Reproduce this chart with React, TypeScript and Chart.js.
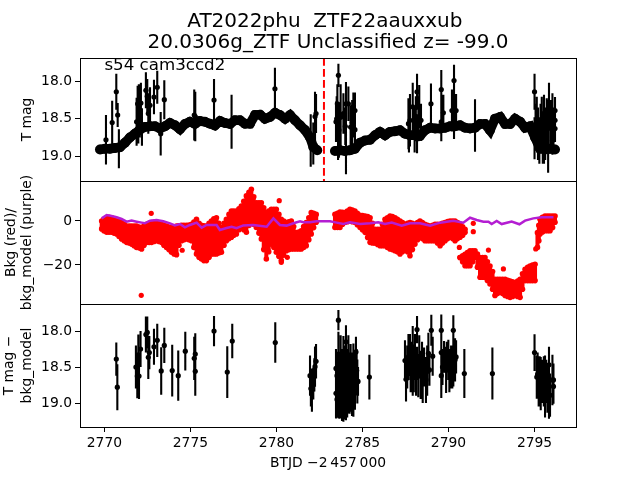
import React, { useEffect, useRef } from "react";
import { Chart, registerables } from "chart.js";

Chart.register(...registerables);

const titleLines = ["AT2022phu  ZTF22aauxxub ", "20.0306g_ZTF Unclassified z= -99.0"];
const sectorLabel = "s54 cam3ccd2";
const eventTime = 2782.76;
const xTicks = [2770, 2775, 2780, 2785, 2790, 2795];
const magTicks = [18.0, 18.5, 19.0];
const bkgTicks = [0, -20];

// Dense photometry band before and after the data gap: [BTJD, T mag]
const magBandEarly = [
  [2769.74,18.91],[2770.03,18.90],[2770.32,18.90],[2770.61,18.89],[2770.9,18.88],[2771.19,18.82],[2771.48,18.75],[2771.77,18.70],
  [2772.06,18.645],[2772.35,18.61],[2772.65,18.60],[2772.94,18.60],[2773.23,18.63],[2773.52,18.60],[2773.81,18.556],[2774.1,18.587],
  [2774.39,18.64],[2774.68,18.57],[2774.97,18.54],[2775.26,18.57],[2775.55,18.53],[2775.84,18.54],[2776.13,18.565],[2776.42,18.59],
  [2776.72,18.53],[2777.0,18.556],[2777.3,18.57],[2777.59,18.52],[2777.88,18.52],[2778.17,18.565],[2778.46,18.565],[2778.75,18.45],
  [2779.04,18.445],[2779.33,18.50],[2779.62,18.476],[2779.92,18.42],[2780.2,18.45],[2780.5,18.50],[2780.79,18.45],[2781.08,18.52],
  [2781.37,18.587],[2781.66,18.65],[2781.95,18.75],[2782.14,18.875],[2782.37,18.92],
];
const magBandLate = [
  [2783.4,18.93],[2783.69,18.92],[2783.98,18.93],[2784.27,18.92],[2784.56,18.90],[2784.86,18.82],[2785.15,18.79],[2785.44,18.78],
  [2785.73,18.72],[2786.02,18.675],[2786.31,18.72],[2786.6,18.675],[2786.89,18.667],[2787.18,18.654],[2787.47,18.70],[2787.76,18.72],
  [2788.05,18.72],[2788.34,18.73],[2788.63,18.654],[2788.93,18.62],[2789.22,18.63],[2789.51,18.63],[2789.8,18.62],[2790.09,18.60],
  [2790.38,18.60],[2790.67,18.587],[2790.96,18.62],[2791.25,18.63],[2791.54,18.62],[2791.83,18.57],[2792.12,18.57],[2792.41,18.654],
  [2792.7,18.50],[2793.0,18.476],[2793.29,18.57],[2793.58,18.57],[2793.87,18.50],[2794.16,18.54],[2794.45,18.62],[2794.74,18.60],
  [2795.03,18.75],[2795.32,18.90],[2795.61,18.91],[2795.9,18.90],[2796.19,18.91],
];

// Scattered photometry: [BTJD, T mag, error]
const magScatter = [
  [2770.09,18.78,0.33],[2770.45,18.55,0.29],[2770.69,18.14,0.24],[2770.77,18.45,0.16],[2770.84,18.90,0.26],[2771.87,18.54,0.32],
  [2771.93,18.30,0.24],[2771.97,18.55,0.28],[2772.0,18.32,0.28],[2772.05,18.5,0.25],[2772.12,18.29,0.27],[2772.18,18.61,0.25],[2772.41,18.12,0.24],[2772.49,18.2,0.23],
  [2772.55,18.43,0.27],[2772.65,18.32,0.24],[2772.88,18.21,0.23],[2773.07,18.08,0.22],[2773.27,18.70,0.29],[2773.48,18.245,0.26],
  [2775.22,18.45,0.34],[2775.28,18.47,0.33],[2776.37,18.25,0.28],[2777.39,18.54,0.36],[2779.91,18.10,0.28],[2781.99,18.79,0.35],
  [2782.3,18.43,0.26],[2782.24,18.47,0.33],[2782.14,18.83,0.28],
  [2783.6,17.92,0.155],[2783.46,18.54,0.27],[2783.5,18.5,0.3],[2783.54,18.30,0.26],[2783.58,18.75,0.3],[2783.63,18.65,0.37],[2783.73,18.48,0.44],[2783.89,18.43,0.27],
  [2784.0,18.6,0.25],[2784.04,18.30,0.29],[2784.04,18.92,0.32],[2784.18,18.30,0.23],[2784.31,18.61,0.29],[2784.4,18.55,0.3],[2784.47,18.45,0.3],[2784.56,18.39,0.24],
  [2784.56,18.645,0.24],[2787.67,18.565,0.34],[2787.7,18.7,0.25],[2787.76,18.52,0.35],[2787.92,18.34,0.32],[2788.03,18.65,0.3],[2788.1,18.5,0.3],[2788.17,18.14,0.24],
  [2788.17,18.70,0.26],[2788.25,18.5,0.3],[2788.3,18.34,0.29],[2788.4,18.52,0.22],[2788.98,18.30,0.27],[2789.58,18.11,0.26],[2789.58,18.54,0.26],
  [2789.7,18.42,0.24],[2790.2,18.39,0.28],[2790.32,17.99,0.21],[2790.32,18.48,0.29],[2790.44,18.39,0.22],[2791.54,18.59,0.35],
  [2795.0,18.14,0.24],[2795.0,18.76,0.28],[2795.06,18.6,0.3],[2795.13,18.565,0.36],[2795.2,18.7,0.35],[2795.28,18.79,0.31],[2795.35,18.6,0.3],[2795.42,18.565,0.36],[2795.48,18.75,0.35],[2795.55,18.52,0.34],
  [2795.55,18.83,0.27],[2795.62,18.7,0.35],[2795.71,18.565,0.34],[2795.75,18.55,0.3],[2795.79,18.88,0.34],[2795.84,18.34,0.32],[2795.92,18.6,0.35],[2796.04,18.43,0.27],[2796.04,18.79,0.19],
  [2796.1,18.65,0.3],[2796.19,18.39,0.18],[2796.19,18.52,0.18],[2796.19,18.63,0.18],
];

// Background flux read as spans: [BTJD, upper, lower]
const bkgSpans = [
  [2769.84,0.0,-3.6],[2770.13,1.5,-5.1],[2770.42,1.5,-5.1],[2770.71,0.0,-5.9],[2771.0,-0.75,-8.2],[2771.29,-2.3,-9.7],[2771.58,-2.3,-10.5],
  [2771.87,-2.3,-12.0],[2772.16,-3.0,-12.7],[2772.45,-1.5,-9.7],[2772.74,-0.75,-9.7],[2773.03,-0.45,-9.0],[2773.32,-1.5,-9.7],[2773.61,-2.3,-12.0],
  [2773.9,-3.0,-14.2],[2774.19,-2.3,-15.3],[2774.48,-2.0,-9.0],[2774.77,-2.0,-8.2],[2775.06,-1.5,-9.0],[2775.35,0.8,-15.0],[2775.64,-2.0,-17.3],
  [2775.93,-2.3,-18.0],[2776.22,0.0,-15.0],[2776.51,1.5,-15.0],[2776.8,-3.0,-14.2],[2777.09,0.8,-9.0],[2777.38,4.5,-7.4],[2777.67,4.5,-5.9],
  [2777.96,6.8,-2.9],[2778.25,11.4,-5.1],[2778.54,14.4,-0.2],[2778.83,8.3,-2.9],[2779.12,8.3,-8.2],[2779.41,3.8,-17.3],[2779.7,5.3,-10.5],
  [2779.99,5.3,-14.2],[2780.28,0.8,-18.0],[2780.57,-0.75,-13.5],[2780.86,0.0,-12.7],[2781.15,-5.3,-12.7],[2781.44,-4.5,-12.7],[2781.73,-0.75,-11.2],
  [2782.02,3.8,-5.9],[2782.31,3.0,-0.6],
  [2783.4,3.0,-2.9],[2783.69,4.1,-2.9],[2783.98,3.8,-0.6],[2784.27,5.3,0.15],[2784.56,4.55,-0.6],[2784.86,2.6,-2.9],[2785.15,2.3,-5.15],
  [2785.44,1.5,-9.7],[2785.73,-3.8,-10.15],[2786.02,-3.8,-11.2],[2786.31,0.8,-11.2],[2786.6,2.3,-12.7],[2786.89,1.5,-13.5],[2787.18,0.0,-15.0],
  [2787.47,-1.5,-12.7],[2787.76,-0.75,-15.8],[2788.05,-1.5,-10.5],[2788.34,0.0,-6.7],[2788.63,-1.5,-9.0],[2788.93,-2.3,-9.0],[2789.22,-1.5,-9.0],
  [2789.51,-1.5,-11.2],[2789.8,-0.75,-9.0],[2790.09,0.0,-7.4],[2790.38,0.0,-9.0],[2790.67,-1.5,-7.4],[2790.96,-3.8,-5.15],
  [2790.67,-16.6,-16.6],[2790.96,-15.1,-20.3],[2791.25,-13.6,-20.3],[2791.54,-13.6,-16.5],[2791.83,-16.66,-25.6],[2792.12,-16.66,-25.6],
  [2792.41,-20.45,-28.6],[2792.7,-26.5,-33.9],[2792.99,-26.5,-31.7],[2793.29,-26.5,-33.9],[2793.58,-27.3,-34.7],[2793.87,-28.0,-33.9],
  [2794.16,-26.5,-34.7],[2794.45,-22.0,-27.1],[2794.74,-20.45,-27.1],[2795.03,-19.7,-27.1],
  [2795.17,-5.3,-12.0],[2795.32,0.8,-5.9],[2795.61,2.3,-4.4],[2795.9,2.3,-4.4],[2796.19,2.3,-0.6],
];

const bkgSpansBetween = [
  [2769.98,0.8,-4.5],[2770.27,1.7,-5.1],[2770.56,0.8,-5.5],[2770.85,-0.3,-7.0],[2771.15,-1.5,-9.0],[2771.44,-2.3,-10.0],[2771.73,-2.3,-11.2],[2772.02,-2.8,-12.2],
  [2772.3,-2.2,-11.0],[2772.6,-1.0,-9.7],[2772.88,-0.6,-9.3],[2773.18,-1.0,-9.3],[2773.46,-2.0,-11.0],[2773.75,-2.7,-13.0],[2774.05,-2.7,-15.0],[2774.33,-2.2,-11.0],
  [2774.62,-2.0,-8.5],[2774.92,-1.8,-8.5],[2775.2,-0.5,-12.0],[2775.5,-1.0,-16.5],[2775.78,-2.2,-18.0],[2776.08,-1.0,-16.5],[2776.36,1.0,-15.0],[2776.65,-1.0,-14.5],
  [2776.95,-1.0,-11.0],[2777.24,3.0,-8.0],[2777.52,4.5,-6.5],[2777.82,5.5,-4.0],[2778.1,9.0,-4.0],[2778.4,13.0,-2.0],[2778.68,11.0,-1.5],[2778.98,8.3,-5.5],
  [2779.26,6.0,-13.0],[2779.55,4.5,-14.0],[2779.85,5.3,-12.0],[2780.14,3.0,-16.0],[2780.42,0.0,-15.5],[2780.72,-0.4,-13.0],[2781.0,-2.5,-12.7],[2781.3,-5.0,-12.7],
  [2781.58,-2.5,-12.0],[2781.88,1.5,-8.5],[2782.16,3.5,-3.0],
  [2783.55,3.5,-2.9],[2783.84,4.0,-1.5],[2784.12,4.5,-0.3],[2784.41,5.0,-0.3],[2784.7,3.5,-1.7],[2785.0,2.5,-4.0],[2785.3,2.0,-7.5],[2785.58,-1.0,-10.0],
  [2785.88,-3.8,-10.7],[2786.16,-1.5,-11.2],[2786.45,1.5,-12.0],[2786.74,2.0,-13.0],[2787.03,0.8,-14.0],[2787.32,-0.7,-14.0],[2787.62,-1.0,-14.0],[2787.9,-1.0,-13.0],
  [2788.2,-0.7,-8.5],[2788.48,-0.7,-8.0],[2788.78,-1.9,-9.0],[2789.08,-1.9,-9.0],[2789.36,-1.5,-10.0],[2789.65,-1.1,-10.0],[2789.95,-0.3,-8.0],[2790.24,0.0,-8.0],
  [2790.52,-0.7,-8.0],[2790.82,-2.6,-6.5],
  [2790.82,-15.8,-18.5],[2791.1,-14.3,-20.3],[2791.4,-13.6,-18.5],[2791.68,-15.0,-21.0],[2791.98,-16.6,-25.6],[2792.26,-18.5,-27.0],[2792.56,-23.0,-31.0],
  [2792.85,-26.5,-33.0],[2793.14,-26.5,-33.0],[2793.44,-27.0,-34.3],[2793.72,-27.6,-34.3],[2794.02,-27.3,-34.3],[2794.3,-24.0,-31.0],[2794.6,-21.0,-27.1],[2794.88,-20.0,-27.1],
  [2795.25,-2.0,-9.0],[2795.46,1.7,-5.0],[2795.76,2.3,-4.4],[2796.05,2.3,-3.0],
];

const bkgOutliers = [
  [2772.72,3.5],[2772.14,-33.8],[2774.52,-13.3],[2780.16,9.25],[2780.63,-16.5],[2780.28,-18.8],
  [2792.32,-13.2],[2793.19,-21.8],[2790.63,-12.0],[2791.44,-4.85],[2791.44,-1.06],[2795.07,-12.7],
];

const bkgModel = [
  [2769.84,1.2],[2770.13,2.7],[2770.42,2.3],[2770.71,1.7],[2771.0,0.9],[2771.29,-0.3],[2771.58,0.2],[2771.87,-0.3],[2772.16,-0.75],[2772.35,-1.05],
  [2772.65,0.15],[2773.03,0.45],[2773.42,-0.15],[2773.81,-1.05],[2774.1,-2.0],[2774.39,-1.4],[2774.68,-2.9],[2774.97,-1.8],[2775.36,-0.75],[2775.65,-3.0],
  [2775.94,-1.8],[2776.52,-1.8],[2776.71,-4.1],[2777.1,-3.2],[2777.39,-2.6],[2777.68,-3.3],[2778.07,-2.0],[2778.65,-1.8],[2779.43,-2.6],[2779.82,1.2],
  [2780.2,-1.8],[2780.59,-2.1],[2780.98,-1.05],[2781.37,-0.15],[2781.56,-0.6],[2781.95,-0.6],[2782.33,-0.15],[2783.11,-0.15],[2783.5,-0.75],[2783.89,-1.4],
  [2784.27,-0.6],[2784.86,-1.4],[2785.44,-1.05],[2785.92,-0.6],[2786.31,-1.4],[2786.7,-0.75],[2787.28,-2.1],[2787.76,-1.05],[2788.34,-1.05],[2788.93,-2.1],
  [2789.51,-0.75],[2790.28,0.15],[2790.86,-0.75],[2791.25,1.5],[2791.64,0.45],[2792.03,-0.3],[2792.32,-0.3],[2792.51,-1.4],[2792.8,0.0],[2793.09,-1.4],
  [2793.67,-0.3],[2794.12,-1.5],[2794.45,0.15],[2794.93,1.2],[2795.42,1.7],[2796.1,1.7],
];

// Residual magnitude: [BTJD, T mag - bkg_model, error]
const residual = [
  [2770.69,18.39,0.23],[2770.75,18.78,0.32],[2771.83,18.50,0.30],[2771.91,18.625,0.31],[2772.01,18.625,0.32],[2771.97,18.33,0.28],[2772.1,18.25,0.25],
  [2772.41,18.05,0.25],[2772.49,18.02,0.22],[2772.55,18.365,0.30],[2772.61,18.30,0.23],[2772.88,18.22,0.25],[2773.07,18.13,0.23],[2773.3,18.555,0.33],
  [2773.48,18.20,0.245],[2773.94,18.55,0.36],[2774.29,18.62,0.35],[2774.7,18.28,0.27],[2775.22,18.38,0.30],[2775.28,18.32,0.29],[2775.28,18.56,0.34],
  [2776.37,18.0,0.21],[2777.14,18.57,0.36],[2777.43,18.14,0.24],[2779.93,18.16,0.28],[2781.95,18.62,0.28],[2782.0,18.80,0.25],[2782.06,18.82,0.30],
  [2782.14,18.73,0.22],[2782.24,18.495,0.28],[2782.3,18.42,0.24],[2782.2,18.61,0.23],
  [2783.6,17.85,0.14],[2783.46,18.52,0.27],[2783.46,18.865,0.35],[2783.6,18.32,0.31],[2783.6,18.91,0.30],[2783.73,18.36,0.30],[2783.73,18.91,0.30],
  [2783.89,18.38,0.31],[2783.89,18.96,0.30],[2784.04,18.15,0.23],[2784.04,18.63,0.28],[2784.04,18.96,0.28],[2784.18,18.36,0.30],[2784.18,18.89,0.255],
  [2784.31,18.45,0.27],[2784.31,18.865,0.255],[2784.47,18.43,0.255],[2784.47,18.91,0.28],[2784.56,18.52,0.255],[2784.56,18.865,0.23],[2784.62,18.29,0.21],
  [2784.7,18.70,0.305],[2785.4,18.64,0.31],
  [2783.52,18.62,0.30],[2783.52,18.95,0.25],[2783.66,18.6,0.3],[2783.66,18.95,0.27],[2783.81,18.55,0.3],[2783.81,18.95,0.3],[2783.96,18.5,0.3],[2783.96,18.9,0.33],
  [2784.11,18.55,0.3],[2784.11,18.9,0.3],[2784.25,18.6,0.3],[2784.25,18.9,0.25],[2784.39,18.6,0.3],[2784.39,18.9,0.28],[2784.52,18.65,0.35],[2784.66,18.55,0.3],[2784.74,18.7,0.2],
  [2787.47,18.41,0.28],[2787.53,18.67,0.31],[2787.67,18.36,0.32],[2787.76,18.33,0.29],[2787.8,18.59,0.26],[2787.92,18.22,0.29],[2787.92,18.63,0.27],
  [2788.05,18.36,0.32],[2788.17,17.98,0.19],[2788.17,18.45,0.23],[2788.3,18.36,0.30],[2788.38,18.61,0.335],[2788.58,18.50,0.27],[2788.69,18.68,0.32],
  [2788.83,18.31,0.285],[2788.89,18.54,0.22],[2789.0,17.99,0.215],[2789.08,18.35,0.27],[2789.58,17.99,0.22],[2789.58,18.30,0.22],[2789.58,18.62,0.31],
  [2789.74,18.36,0.22],[2789.86,18.54,0.32],[2789.99,18.40,0.28],[2790.15,18.50,0.30],[2790.28,17.99,0.21],[2790.28,18.45,0.32],[2790.38,18.40,0.30],
  [2790.44,18.36,0.23],[2790.92,18.59,0.34],[2792.55,18.59,0.36],
  [2787.6,18.5,0.3],[2787.86,18.45,0.3],[2787.98,18.55,0.3],[2788.11,18.6,0.3],[2788.24,18.62,0.3],[2788.46,18.45,0.3],[2788.5,18.7,0.3],[2788.76,18.55,0.35],
  [2789.65,18.5,0.25],[2789.9,18.35,0.2],[2790.05,18.55,0.3],[2790.22,18.5,0.3],
  [2795.0,18.30,0.255],[2795.13,18.64,0.30],[2795.24,18.70,0.35],[2795.36,18.73,0.37],[2795.48,18.68,0.27],[2795.61,18.77,0.43],[2795.75,18.80,0.335],
  [2795.84,18.47,0.25],[2795.84,18.91,0.31],[2795.9,18.89,0.30],[2796.04,18.68,0.35],[2796.1,18.68,0.23],[2796.1,18.77,0.24],
  [2795.18,18.6,0.3],[2795.3,18.65,0.3],[2795.42,18.7,0.3],[2795.54,18.7,0.35],[2795.68,18.7,0.3],[2795.79,18.75,0.3],
];

const FONT = "'DejaVu Sans'";
const X_RANGE = [2768.58, 2797.41];
const MAG_RANGE = [17.69, 19.33];
const BKG_RANGE = [-37.73, 18.18];
const RES_RANGE = [17.625, 19.333];

const points = (rows: number[][]) => rows.map((r) => ({ x: r[0], y: r[1] }));
const errorBars = (rows: number[][]) =>
  rows.flatMap((r) => [{ x: r[0], y: r[1] - r[2] }, { x: r[0], y: r[1] + r[2] }, { x: r[0], y: NaN }]);
const spans = (rows: number[][]) =>
  rows.flatMap((r) => [{ x: r[0], y: r[1] }, { x: r[0], y: r[2] }, { x: r[0], y: NaN }]);

const panelFrame = {
  id: "panelFrame",
  afterDatasetsDraw(chart: any) {
    const { ctx, chartArea, scales } = chart;
    ctx.save();
    ctx.strokeStyle = "#000";
    ctx.lineWidth = 1;
    for (const id of ["y1", "y2", "y3"]) {
      const s = scales[id];
      ctx.strokeRect(Math.round(chartArea.left) + 0.5, Math.round(s.top) + 0.5, Math.round(chartArea.right - chartArea.left), Math.round(s.bottom - s.top));
    }
    ctx.fillStyle = "#000";
    ctx.font = `16.67px ${FONT}`;
    ctx.textBaseline = "alphabetic";
    ctx.fillText(sectorLabel, scales.x.getPixelForValue(2770), scales.y1.getPixelForValue(17.85));
    ctx.restore();
  },
};

function yAxis(range: number[], tickList: number[], digits: number, title: string[], reverse: boolean, titlePad: number, titleLineHeight: number) {
  return {
    type: "linear",
    position: "left",
    stack: "panels",
    stackWeight: 1,
    reverse,
    min: range[0],
    max: range[1],
    afterBuildTicks(scale: any) {
      scale.ticks = tickList.map((value) => ({ value }));
    },
    afterFit(scale: any) {
      scale.width = 80;
    },
    grid: { drawOnChartArea: false, drawTicks: true, tickLength: 5, tickColor: "#000", tickWidth: 1 },
    border: { display: false },
    ticks: {
      color: "#000",
      font: { family: FONT, size: 13.89 },
      padding: 3,
      autoSkip: false,
      maxRotation: 0,
      callback: (v: number) => (digits > 0 ? v.toFixed(digits) : String(v).replace("-", "\u2212")),
    },
    title: { display: true, text: title, color: "#000", font: { family: FONT, size: 13.89, lineHeight: titleLineHeight }, padding: { top: titlePad, bottom: 0 } },
  };
}

export default function App() {
  const ref = useRef<HTMLCanvasElement>(null);
  useEffect(() => {
    const base = { type: "scatter", showLine: false, pointBorderWidth: 0, xAxisID: "x" };
    const chart = new Chart(ref.current as HTMLCanvasElement, {
      type: "scatter",
      data: {
        datasets: [
          { ...base, label: "event", yAxisID: "y1", showLine: true, borderColor: "#ff0000", borderWidth: 2, borderDash: [7.7, 3.3], pointRadius: 0, data: [{ x: eventTime, y: MAG_RANGE[0] }, { x: eventTime, y: MAG_RANGE[1] }] },
          { ...base, label: "mag", yAxisID: "y1", pointRadius: 2.6, pointBackgroundColor: "#000", data: points(magScatter) },
          { ...base, label: "mag err", yAxisID: "y1", showLine: true, borderColor: "#000", borderWidth: 2.1, pointRadius: 0, spanGaps: false, data: errorBars(magScatter) },
          { ...base, label: "mag band early", yAxisID: "y1", showLine: true, borderColor: "#000", borderWidth: 9.5, pointRadius: 5, pointBackgroundColor: "#000", data: points(magBandEarly) },
          { ...base, label: "mag band late", yAxisID: "y1", showLine: true, borderColor: "#000", borderWidth: 9.5, pointRadius: 5, pointBackgroundColor: "#000", data: points(magBandLate) },
          { ...base, label: "bkg_model", yAxisID: "y2", showLine: true, borderColor: "#b41ed2", borderWidth: 2.5, pointRadius: 0, data: points(bkgModel) },
          { ...base, label: "bkg", yAxisID: "y2", pointRadius: 2.6, pointBackgroundColor: "#ff0000", data: points(bkgOutliers) },
          { ...base, label: "bkg spread", yAxisID: "y2", showLine: true, borderColor: "#ff0000", borderWidth: 4, pointRadius: 2.8, pointBackgroundColor: "#ff0000", spanGaps: false, data: spans(bkgSpans) },
          { ...base, label: "bkg spread between", yAxisID: "y2", showLine: true, borderColor: "#ff0000", borderWidth: 4, pointRadius: 2.8, pointBackgroundColor: "#ff0000", spanGaps: false, data: spans(bkgSpansBetween) },
          { ...base, label: "residual", yAxisID: "y3", pointRadius: 2.6, pointBackgroundColor: "#000", data: points(residual) },
          { ...base, label: "residual err", yAxisID: "y3", showLine: true, borderColor: "#000", borderWidth: 2.1, pointRadius: 0, spanGaps: false, data: errorBars(residual) },
        ],
      },
      options: {
        animation: false,
        responsive: false,
        layout: { padding: { top: 11, right: 64, left: 0, bottom: 0 } },
        plugins: {
          legend: { display: false },
          tooltip: { enabled: false },
          title: {
            display: true,
            text: titleLines,
            fullSize: false,
            color: "#000",
            font: { family: FONT, size: 20, weight: "normal", lineHeight: 1.05 },
            padding: { top: 0, bottom: 5 },
          },
        },
        scales: {
          x: {
            type: "linear",
            position: "bottom",
            min: X_RANGE[0],
            max: X_RANGE[1],
            afterBuildTicks(scale: any) {
              scale.ticks = xTicks.map((value) => ({ value }));
            },
            afterFit(scale: any) {
              scale.height = 53;
            },
            grid: { drawOnChartArea: false, drawTicks: true, tickLength: 5, tickColor: "#000", tickWidth: 1 },
            border: { display: false },
            ticks: { color: "#000", font: { family: FONT, size: 13.89 }, padding: 3, autoSkip: false, maxRotation: 0, callback: (v: number) => String(v) },
            title: { display: true, text: "BTJD \u22122\u2009457\u2009000", color: "#000", font: { family: FONT, size: 13.89 }, padding: { top: 0, bottom: 8 } },
          },
          y3: yAxis(RES_RANGE, magTicks, 1, ["T mag \u2212", "bkg_model"], true, 0, 1.3),
          y2: yAxis(BKG_RANGE, bkgTicks, 0, ["Bkg (red)/", "bkg_model (purple)"], false, 3, 1.15),
          y1: yAxis(MAG_RANGE, magTicks, 1, ["T mag"], true, 19, 1.15),
        },
      } as any,
      plugins: [panelFrame],
    } as any);
    return () => chart.destroy();
  }, []);
  return (
    <div style={{ position: "absolute", left: 0, top: 0, width: 640, height: 480 }}>
      <canvas ref={ref} width={640} height={480} style={{ display: "block" }} />
    </div>
  );
}
